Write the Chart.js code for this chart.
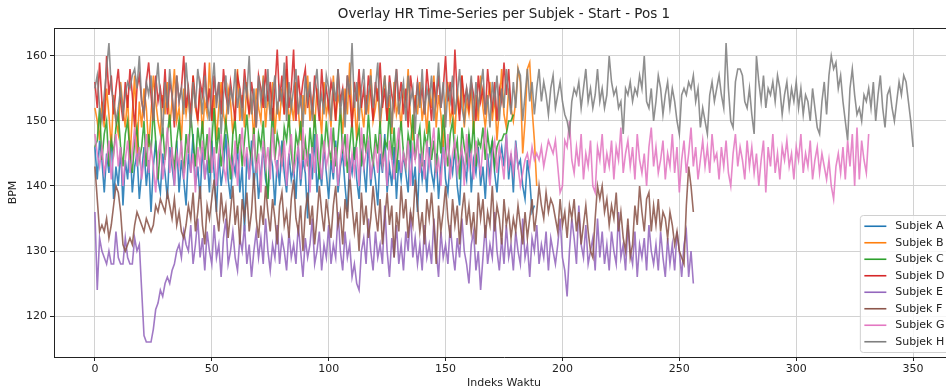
<!DOCTYPE html>
<html>
<head>
<meta charset="utf-8">
<script src="https://cdn.jsdelivr.net/npm/chart.js@4.4.0/dist/chart.umd.min.js"></script>
<style>
  html, body { margin: 0; padding: 0; background: #fff; overflow: hidden; }
  #wrap { width: 968px; height: 390px; }
</style>
</head>
<body>
<div id="wrap"><canvas id="hr" width="968" height="390"></canvas></div>
<script>
const subjects = ["Subjek A", "Subjek B", "Subjek C", "Subjek D", "Subjek E", "Subjek F", "Subjek G", "Subjek H"];

const hrA = [
  146,141,147,144,139,145,142,148,138,143,140,146,137,144,141,147,139,143,145,138,
  142,146,140,144,136,143,147,141,139,145,142,138,146,143,140,147,139,144,141,137,
  145,142,148,140,143,138,146,141,144,139,147,142,136,145,140,143,148,141,138,144,
  142,146,139,143,133,145,141,147,140,144,138,142,146,141,139,145,143,137,144,140,
  147,142,139,145,141,143,138,146,140,144,142,135,145,141,148,139,143,140,146,142,
  138,144,141,147,139,143,145,140,136,144,142,146,141,138,145,143,139,147,140,144,
  141,137,145,142,148,139,143,140,146,138,144,141,145,142,139,147,140,143,136,145,
  141,144,139,146,142,140,145,138,143,147,141,139,144,142,146,140,137,145,143,141,
  148,139,144,142,146,140,143,138,145,141,147,142,139,144,146,143,148,141,145,139,
  147,143,144,140,138,144,141,136,137
];
const hrB = [
  152,150,147,153,149,155,151,146,154,150,148,156,152,149,154,144,151,157,145,153,
  149,155,152,146,151,157,153,150,148,154,151,156,149,153,158,150,152,147,155,151,
  154,149,157,152,150,155,148,153,151,159,150,154,147,152,156,151,149,155,153,148,
  152,158,150,154,149,156,151,153,147,155,152,150,157,149,154,151,156,148,153,150,
  155,151,158,149,153,150,156,152,147,154,151,157,150,153,149,155,152,148,156,151,
  153,149,157,150,154,152,148,155,151,159,150,153,147,156,152,149,154,151,158,150,
  152,155,149,153,157,150,154,148,156,151,153,149,155,152,158,150,147,154,151,156,
  150,153,148,155,152,157,149,154,151,146,153,156,150,152,148,155,151,157,149,153,
  151,155,148,154,150,157,152,149,153,156,150,154,147,152,158,151,149,155,152,150,
  153,158,156,145,150,158,159,152,147,140
];
const hrC = [
  146,147,152,144,148,150,143,147,145,149,151,146,143,148,150,145,142,147,149,144,
  146,150,143,148,145,152,147,141,146,149,144,148,151,145,143,147,150,146,142,148,
  145,151,147,143,149,146,150,144,148,142,147,152,145,149,143,146,150,147,141,148,
  150,145,148,143,147,151,146,144,149,142,148,146,150,143,138,145,152,144,148,146,
  143,149,147,151,145,142,148,146,150,144,147,143,149,145,151,146,141,148,145,150,
  146,144,149,143,147,152,145,148,142,146,150,144,147,149,143,148,145,151,146,143,
  148,145,150,143,147,146,152,144,149,142,147,150,145,143,148,146,151,144,147,149,
  143,148,146,150,144,147,142,149,145,151,146,143,148,150,145,147,141,149,146,144,
  148,145,150,143,147,146,149,144,148,145,147,143,146,147,147,148,148,150,150,151
];
const hrD = [
  156,152,159,153,150,160,154,157,151,155,158,153,150,156,152,158,154,149,155,157,
  153,151,156,159,154,150,157,153,155,152,158,151,156,154,149,157,153,155,160,152,
  155,151,157,153,150,156,154,159,152,155,150,157,153,156,151,158,154,152,156,153,
  150,157,155,152,158,154,151,156,153,149,157,155,152,158,153,156,150,155,161,153,
  157,151,160,152,155,161,150,157,153,156,158,152,155,151,157,154,150,158,153,155,
  152,156,154,150,158,153,155,151,157,154,149,156,153,158,152,155,151,157,154,150,
  156,153,159,152,155,150,157,154,152,158,153,156,151,155,149,157,154,152,156,153,
  155,151,158,154,150,156,153,157,152,155,160,153,156,151,161,154,150,157,153,155,
  152,156,154,150,157,153,155,151,158,154,152,156,150,155,153,159,154,158,152
];
const hrE = [
  136,124,132,130,129,128,130,128,128,133,129,128,128,132,129,128,128,132,130,131,
  124,117,116,116,116,118,121,122,124,123,125,126,125,127,128,130,131,129,133,131,
  130,134,128,131,135,129,132,127,133,130,128,134,129,131,126,132,135,128,130,133,
  129,127,132,130,134,128,131,126,130,133,129,132,128,135,130,127,131,129,134,128,
  132,130,127,133,129,131,128,134,130,126,132,129,131,135,128,130,133,127,131,129,
  134,128,131,129,136,130,127,133,129,131,126,128,125,124,130,132,128,135,130,127,
  133,129,131,128,137,130,126,132,129,134,128,131,127,133,130,136,129,132,128,131,
  127,134,129,131,128,135,130,126,133,129,131,128,134,130,127,132,129,135,130,128,
  125,131,133,127,130,124,129,134,128,131,129,136,130,127,132,128,134,129,131,127,
  133,130,128,135,129,131,126,132,130,134,128,131,129,133,127,132,130,128,131,135,
  129,127,123,130,135,132,128,137,131,129,134,128,130,132,127,135,129,133,128,131,
  127,133,130,128,136,129,131,127,134,130,128,133,126,131,129,132,127,134,130,128,
  131,127,133,129,126,132,128,131,127,133,130,126,131,133,126,130,125
];
const hrF = [
  143,138,133,134,133,135,132,134,137,140,139,136,131,130,131,132,131,134,136,135,
  134,133,135,134,133,134,137,136,138,137,136,139,137,135,138,134,136,133,132,134,
  137,135,139,133,136,140,134,131,137,135,138,141,136,133,139,135,137,132,136,140,
  134,137,131,138,135,139,133,136,142,135,132,137,134,140,136,133,138,135,131,137,
  139,134,136,132,138,141,135,133,137,130,136,139,134,137,131,135,140,136,133,138,
  135,132,137,140,134,136,131,138,135,142,137,133,136,130,139,134,137,132,135,140,
  136,133,138,131,135,139,134,137,129,136,133,140,135,138,132,136,134,141,137,133,
  136,131,138,135,139,134,128,137,133,136,140,135,132,138,134,137,131,136,139,134,
  137,133,136,131,139,135,138,132,136,134,140,133,137,135,131,138,134,136,132,135,
  133,137,134,131,136,132,135,138,133,136,140,137,135,139,136,138,137,135,133,138,
  134,136,132,137,135,138,133,136,131,134,137,133,130,129,135,140,138,140,136,138,
  134,137,135,139,133,136,132,130,135,129,131,137,134,140,136,133,138,139,133,137,
  134,138,133,136,135,132,136,134,131,133,130,129,128,137,143,140,136
];
const hrG = [
  148,145,143,146,142,144,147,141,145,148,143,146,140,144,147,142,145,149,143,146,
  141,144,148,142,146,143,139,145,147,141,144,149,142,146,140,145,143,147,141,144,
  148,142,145,139,146,143,147,141,144,149,142,146,140,145,148,143,141,146,144,142,
  147,140,145,149,143,146,141,144,148,142,145,139,147,143,146,141,149,144,142,146,
  143,147,140,145,148,142,144,146,141,149,143,145,139,146,142,148,144,141,147,143,
  145,149,142,146,140,144,147,143,148,141,145,142,146,140,149,143,145,147,141,144,
  146,142,148,143,145,140,147,144,141,146,149,142,145,143,147,140,146,144,148,142,
  145,141,147,143,146,149,142,144,140,146,143,148,141,145,147,142,144,146,140,148,
  143,145,141,147,144,142,146,149,143,140,145,147,142,146,144,141,148,143,145,142,
  146,143,140,142,144,145,143,146,144,145,144,146,143,145,147,146,145,147,143,139,
  140,147,146,150,144,142,146,143,148,141,145,143,147,140,139,146,144,148,142,145,
  143,147,141,146,144,149,142,145,147,143,146,141,148,144,142,145,140,146,149,143,
  146,142,144,147,141,145,143,148,142,146,139,144,147,142,145,149,143,146,141,144,
  147,143,146,142,148,144,145,141,146,143,147,142,140,145,148,143,146,144,141,147,
  143,146,142,145,140,144,147,139,146,143,148,142,145,141,146,144,147,143,145,141,
  146,144,148,142,145,143,147,141,144,146,142,145,143,141,144,140,138,143,145,142,
  146,141,147,143,148,140,149,141,147,144,142,148
];
const hrH = [
  155,157,152,150,154,158,162,155,153,150,152,155,151,154,156,155,157,158,155,160,
  153,151,156,154,157,150,155,159,153,148,156,152,158,154,150,157,153,155,151,159,
  154,149,156,152,158,155,151,157,153,150,155,159,152,156,148,154,157,151,155,153,
  158,152,155,150,156,154,160,151,155,149,157,153,156,152,158,150,154,157,151,155,
  153,159,150,156,152,155,158,151,154,149,157,153,156,150,155,158,152,154,151,157,
  155,150,156,153,158,151,155,149,157,154,162,152,156,150,155,158,151,154,157,152,
  155,159,150,154,157,152,156,149,155,158,151,154,156,150,157,153,155,148,156,152,
  158,151,155,153,157,150,154,159,152,156,149,155,153,157,151,154,158,152,150,155,
  153,157,150,156,152,155,158,151,154,149,156,153,157,150,155,152,158,154,151,156,
  152,158,157,150,154,158,153,156,151,155,158,153,156,154,151,155,157,152,154,156,
  153,151,150,148,153,155,154,156,152,155,158,153,155,152,154,158,153,155,152,154,
  160,156,154,155,152,153,148,155,154,156,153,155,154,157,155,160,153,152,155,150,
  153,157,155,151,154,156,152,155,153,150,148,154,155,154,156,155,157,153,155,149,
  152,150,148,154,156,153,155,157,154,152,162,155,150,149,156,158,158,157,153,152,
  155,151,148,160,156,153,157,152,155,154,156,153,157,155,151,154,156,152,155,153,
  156,152,155,151,154,153,150,155,152,149,148,153,156,151,157,160,158,159,155,157,
  153,150,147,155,158,154,151,152,150,154,153,155,152,156,150,154,157,152,149,154,
  155,152,150,153,156,154,157,156,153,150,146
];

const xTicks = [0, 50, 100, 150, 200, 250, 300, 350];
const yTicks = [120, 130, 140, 150, 160];
const colors = ["#1f77b4", "#ff7f0e", "#2ca02c", "#d62728", "#9467bd", "#8c564b", "#e377c2", "#7f7f7f"];

const series = [hrA, hrB, hrC, hrD, hrE, hrF, hrG, hrH];
const font = "'DejaVu Sans', sans-serif";

// matplotlib-style legend inside the axes (lower right) + top frame line
const boxLegend = {
  id: "boxLegend",
  afterDraw(chart) {
    const c = chart.ctx;
    const a = chart.chartArea;
    c.save();
    c.strokeStyle = "#222";
    c.lineWidth = 1;
    c.beginPath();
    c.moveTo(a.left, a.top + 0.5);
    c.lineTo(a.right, a.top + 0.5);
    c.moveTo(a.right - 0.5, a.top);
    c.lineTo(a.right - 0.5, a.bottom);
    c.stroke();

    c.font = "11px " + font;
    const row = 16.5;
    const textW = Math.max(...subjects.map(s => c.measureText(s).width));
    const w = 4.5 + 22 + 9 + textW + 4.5;
    const h = subjects.length * row + 5;
    const x = a.right - 5 - w;
    const y = a.bottom - 5 - h;
    c.fillStyle = "rgba(255,255,255,0.8)";
    c.strokeStyle = "#d0d0d0";
    c.beginPath();
    c.roundRect(x + 0.5, y + 0.5, w, h, 3);
    c.fill();
    c.stroke();
    c.textBaseline = "middle";
    subjects.forEach((s, i) => {
      const yy = y + 3 + row * i + row / 2;
      c.strokeStyle = colors[i];
      c.lineWidth = 1.6;
      c.beginPath();
      c.moveTo(x + 4.5, yy);
      c.lineTo(x + 26.5, yy);
      c.stroke();
      c.fillStyle = "#222";
      c.fillText(s, x + 35.5, yy);
    });
    c.restore();
  }
};

new Chart(document.getElementById("hr"), {
  type: "line",
  data: {
    datasets: series.map((vals, i) => ({
      label: subjects[i],
      data: vals.map((v, k) => ({ x: k, y: v })),
      borderColor: colors[i] + "e0",
      borderWidth: 1.6,
      pointRadius: 0,
      tension: 0,
      fill: false,
      order: series.length - i,
    })),
  },
  options: {
    responsive: false,
    animation: false,
    layout: { padding: { left: 0, right: 14, top: 0, bottom: 0 } },
    plugins: {
      legend: { display: false },
      tooltip: { enabled: false },
      title: {
        display: true,
        text: "Overlay HR Time-Series per Subjek - Start - Pos 1",
        fullSize: false,
        color: "#222",
        font: { family: font, size: 13.5, weight: "normal" },
        padding: { top: 6.5, bottom: 5.3 },
      },
    },
    scales: {
      x: {
        type: "linear",
        min: -17.5,
        max: 367.5,
        afterBuildTicks: s => { s.ticks = xTicks.map(v => ({ value: v })); },
        afterFit: s => { s.height = 33; },
        ticks: { color: "#222", font: { family: font, size: 11 }, padding: 2, maxRotation: 0 },
        grid: { color: "#d2d2d2", tickColor: "#222", tickLength: 4 },
        border: { color: "#222", width: 1 },
        title: { display: true, text: "Indeks Waktu", color: "#222", font: { family: font, size: 11 }, padding: { top: 1, bottom: 0 } },
      },
      y: {
        min: 113.7,
        max: 164.3,
        afterBuildTicks: s => { s.ticks = yTicks.map(v => ({ value: v })); },
        afterFit: s => { s.width = 54; },
        ticks: { color: "#222", font: { family: font, size: 11 }, padding: 3 },
        grid: { color: "#d2d2d2", tickColor: "#222", tickLength: 4 },
        border: { color: "#222", width: 1 },
        title: { display: true, text: "BPM", color: "#222", font: { family: font, size: 11 }, padding: { top: 7, bottom: 0 } },
      },
    },
  },
  plugins: [boxLegend],
});
</script>
</body>
</html>
